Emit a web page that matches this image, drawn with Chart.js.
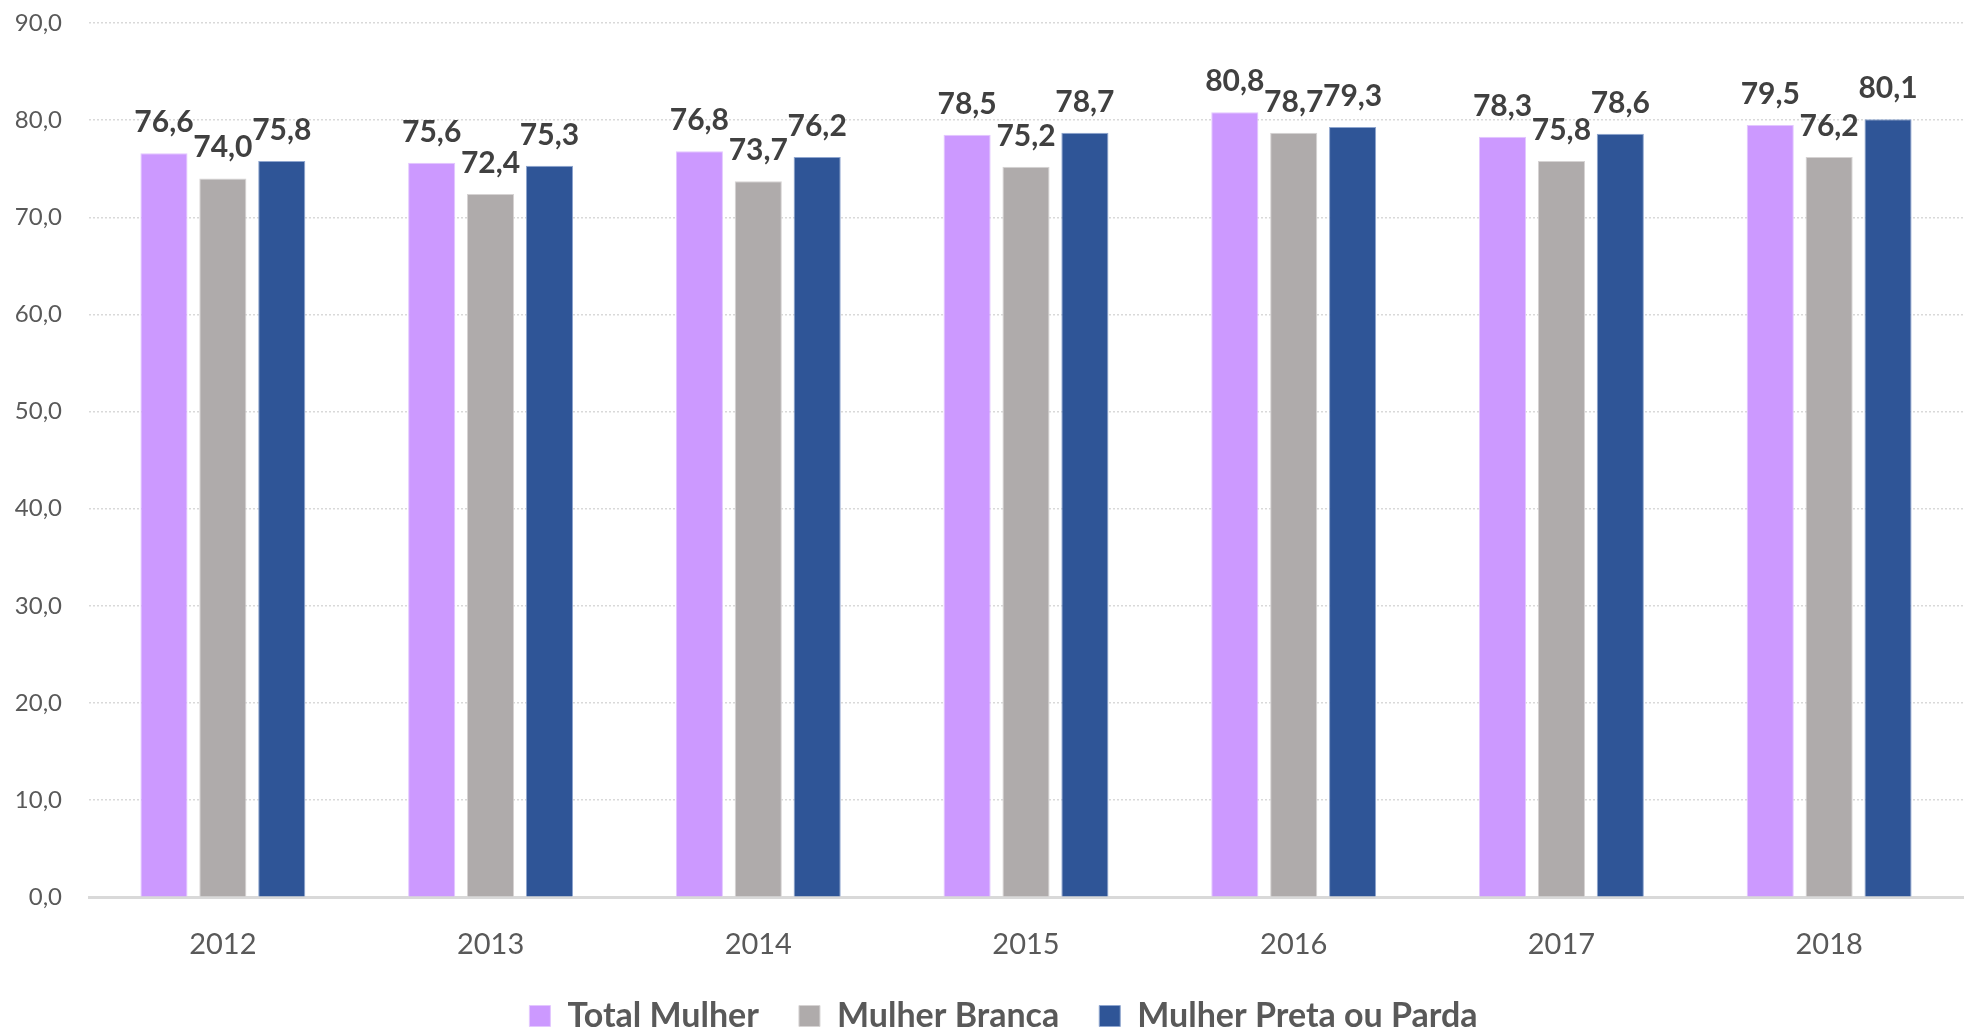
<!DOCTYPE html>
<html>
<head>
<meta charset="utf-8">
<script src="https://cdn.jsdelivr.net/npm/chart.js@4"></script>
<style>
  html, body { margin: 0; padding: 0; background: #fff; }
  #wrap { width: 1977px; height: 1031px; }
</style>
</head>
<body>
<div id="wrap"><canvas id="chart"></canvas></div>
<script>
// data
const years = ['2012', '2013', '2014', '2015', '2016', '2017', '2018'];
const totalMulher = [76.6, 75.6, 76.8, 78.5, 80.8, 78.3, 79.5];
const mulherBranca = [74.0, 72.4, 73.7, 75.2, 78.7, 75.8, 76.2];
const mulherPreta = [75.8, 75.3, 76.2, 78.7, 79.3, 78.6, 80.1];
const seriesNames = ['Total Mulher', 'Mulher Branca', 'Mulher Preta ou Parda'];

const fmt = v => v.toFixed(1).replace('.', ',');

// value labels above each bar
const barLabels = {
  id: 'barLabels',
  afterDatasetsDraw(chart) {
    const ctx = chart.ctx;
    ctx.save();
    ctx.font = 'bold 30px Lato';
    ctx.fillStyle = '#404040';
    ctx.textAlign = 'center';
    ctx.textBaseline = 'alphabetic';
    chart.data.datasets.forEach((ds, i) => {
      chart.getDatasetMeta(i).data.forEach((bar, j) => {
        ctx.fillText(fmt(ds.data[j]), bar.x, bar.y - 21);
      });
    });
    ctx.restore();
  }
};

// the original legend sits a little right of the canvas centre
const legendShift = {
  id: 'legendShift',
  afterLayout(chart) {
    chart.legend.left += 22;
    chart.legend.right += 22;
  }
};

// keep the plot area where the layout padding puts it
function noEdgePadding(scale) {
  scale.paddingTop = 0;
  scale.paddingBottom = 0;
}

Chart.defaults.font.family = 'Lato';
Chart.defaults.color = '#595959';

new Chart(document.getElementById('chart'), {
  type: 'bar',
  data: {
    labels: years,
    datasets: [
      { label: seriesNames[0], data: totalMulher, backgroundColor: '#CC99FF', borderColor: '#E3C7FF', borderWidth: 1 },
      { label: seriesNames[1], data: mulherBranca, backgroundColor: '#AFABAB', borderColor: '#D6D3D3', borderWidth: 1 },
      { label: seriesNames[2], data: mulherPreta, backgroundColor: '#2F5597', borderColor: '#8FA6CF', borderWidth: 1 },
    ],
  },
  options: {
    responsive: true,
    maintainAspectRatio: false,
    animation: false,
    layout: { padding: { top: 23, right: 14, left: 0, bottom: -12 } },
    datasets: { bar: { categoryPercentage: 0.66, barPercentage: 0.8 } },
    plugins: {
      tooltip: { enabled: false },
      legend: {
        position: 'bottom',
        labels: {
          boxWidth: 21,
          boxHeight: 21,
          padding: 40,
          color: '#595959',
          font: { size: 34, weight: 'bold' },
        },
      },
    },
    scales: {
      x: {
        afterFit(scale) {
          noEdgePadding(scale);
          // let the legend's top padding overlap the tick area
          scale.height -= 33;
        },
        grid: { display: false, drawTicks: false },
        border: { display: true, color: '#D9D9D9', width: 3 },
        ticks: { font: { size: 29 }, padding: 30, color: '#595959' },
      },
      y: {
        min: 0,
        max: 90,
        afterFit(scale) {
          scale.width = 89;
          noEdgePadding(scale);
        },
        grid: { color: '#D9D9D9', lineWidth: 1.5, drawTicks: false },
        border: { display: false, dash: [2, 2] },
        ticks: {
          stepSize: 10,
          padding: 27,
          font: { size: 24 },
          color: '#595959',
          callback: v => fmt(v),
        },
      },
    },
  },
  plugins: [barLabels, legendShift],
});
</script>
</body>
</html>
